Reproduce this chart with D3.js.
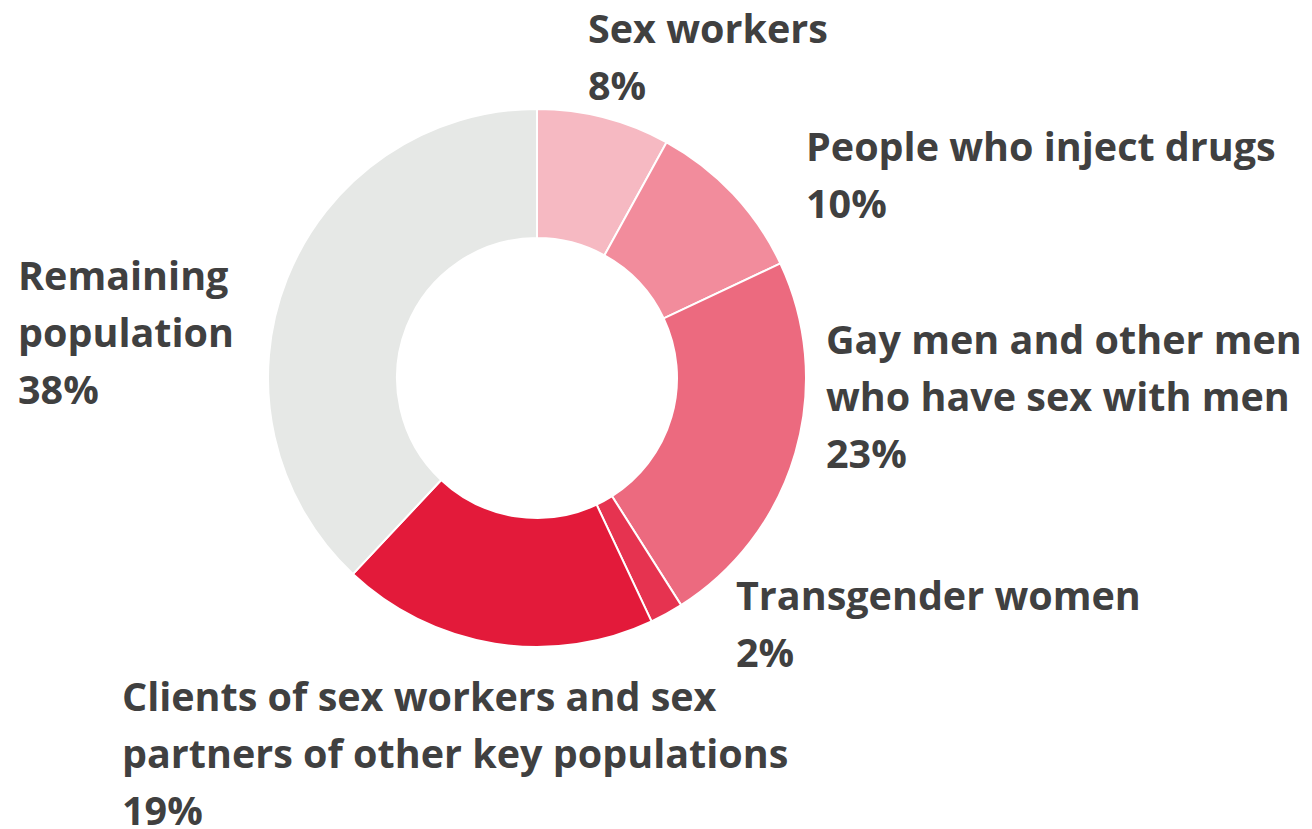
<!DOCTYPE html>
<html><head><meta charset="utf-8">
<script src="https://cdn.jsdelivr.net/npm/d3@7"></script>
<style>body{margin:0;background:#fff}svg{display:block}</style>
</head><body>
<svg id="c" width="1312" height="829"></svg>
<script>
const categories = ["Sex workers","People who inject drugs","Gay men and other men who have sex with men","Transgender women","Clients of sex workers and sex partners of other key populations","Remaining population"];
const values = [8,10,23,2,19,38];
const colors = ["#f6b9c2","#f28c9c","#ec6a7f","#e63350","#e31a3a","#e6e8e6"];
const labelLines = [["Sex workers","8%"],["People who inject drugs","10%"],["Gay men and other men","who have sex with men","23%"],["Transgender women","2%"],["Clients of sex workers and sex","partners of other key populations","19%"],["Remaining","population","38%"]];
const labelPos = [[588,43],[806,161],[826,354],[736,610],[122,711],[18,290]];

const svg = d3.select("#c");
const cx = 537, cy = 378, R = 269, r0 = 140;
const pie = d3.pie().sort(null).value(d=>d)(values);
const arc = d3.arc().innerRadius(r0).outerRadius(R);
const g = svg.append("g").attr("transform",`translate(${cx},${cy})`);
g.selectAll("path").data(pie).join("path")
  .attr("d",arc).attr("fill",(d,i)=>colors[i])
  .attr("stroke","#fff").attr("stroke-width",2);

const lh = 57;
labelLines.forEach((lines,i)=>{
  const t = svg.append("text").attr("x",labelPos[i][0]).attr("y",labelPos[i][1])
    .attr("font-family","'Open Sans', sans-serif").attr("font-weight","bold")
    .attr("font-size",39.5).attr("fill","#404040");
  lines.forEach((l,j)=>t.append("tspan").attr("x",labelPos[i][0]).attr("y",labelPos[i][1]+j*lh).text(l));
});
</script>
</body></html>
